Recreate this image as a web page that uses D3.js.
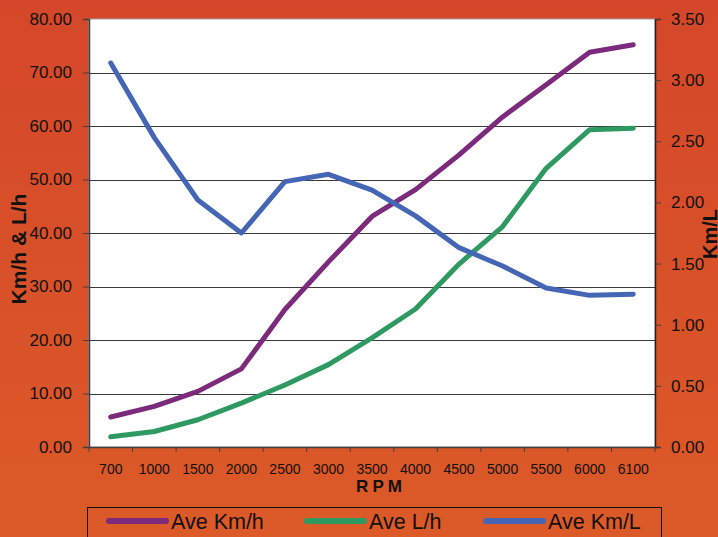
<!DOCTYPE html>
<html>
<head>
<meta charset="utf-8">
<script src="https://cdn.jsdelivr.net/npm/d3@7"></script>
<style>
  html, body { margin: 0; padding: 0; }
  body { width: 718px; height: 537px; overflow: hidden; }
</style>
</head>
<body>
<div id="chart"></div>
<script>
// chart values
const rpm = ["700", "1000", "1500", "2000", "2500", "3000", "3500", "4000", "4500", "5000", "5500", "6000", "6100"];
const aveKmh = [5.6, 7.6, 10.4, 14.6, 25.7, 34.6, 43.1, 48.1, 54.6, 61.7, 67.7, 73.8, 75.2];
const aveLh = [1.9, 2.9, 5.1, 8.2, 11.6, 15.4, 20.4, 25.8, 34.2, 41.2, 52.1, 59.3, 59.6];
const aveKmL = [3.14, 2.53, 2.02, 1.75, 2.17, 2.23, 2.10, 1.89, 1.63, 1.48, 1.30, 1.24, 1.25];
const leftTicks = [0, 10, 20, 30, 40, 50, 60, 70, 80];
const rightTicks = [0, 0.5, 1, 1.5, 2, 2.5, 3, 3.5];
const seriesNames = ["Ave Km/h", "Ave L/h", "Ave Km/L"];
const seriesColors = ["#7b2a7c", "#2e9a62", "#4466b4"];

const W = 718, H = 537;
const margin = { top: 19, right: 63, bottom: 90, left: 89 };
const width = W - margin.left - margin.right;
const height = H - margin.top - margin.bottom;
const font = "'Liberation Sans', Arial, sans-serif";

const svg = d3.select("#chart").append("svg")
    .attr("width", W)
    .attr("height", H);

// orange background, a bit redder at the top
const grad = svg.append("defs").append("linearGradient")
    .attr("id", "bg").attr("x1", 0).attr("y1", 0).attr("x2", 0).attr("y2", 1);
grad.append("stop").attr("offset", "0%").attr("stop-color", "#d4472a");
grad.append("stop").attr("offset", "100%").attr("stop-color", "#dc5a28");
svg.append("rect").attr("width", W).attr("height", H).attr("fill", "url(#bg)");

const g = svg.append("g").attr("transform", `translate(${margin.left},${margin.top})`);

const x = d3.scaleBand().domain(rpm).range([0, width]);
const yL = d3.scaleLinear().domain([0, 80]).range([height, 0]);
const yR = d3.scaleLinear().domain([0, 3.5]).range([height, 0]);

// plot area
g.append("rect")
    .attr("width", width).attr("height", height)
    .attr("fill", "#ffffff")
    .attr("stroke", "#a0a0a0").attr("stroke-width", 1);

// gridlines
g.selectAll(".grid")
    .data(leftTicks.slice(1, -1))
    .enter().append("line")
    .attr("x1", 0).attr("x2", width)
    .attr("y1", d => Math.round(yL(d)) + 0.5)
    .attr("y2", d => Math.round(yL(d)) + 0.5)
    .attr("stroke", "#3a3a3a").attr("stroke-width", 1);

// left axis
const axL = g.append("g")
    .call(d3.axisLeft(yL).tickValues(leftTicks).tickFormat(d3.format(".2f")).tickSize(6).tickPadding(11));
axL.select(".domain").attr("stroke", "#404040").attr("stroke-width", 1.5);
axL.selectAll(".tick line").attr("stroke", "#404040");
axL.selectAll("text").style("font-family", font).style("font-size", "17px").attr("fill", "#111");

// right axis
const axR = g.append("g")
    .attr("transform", `translate(${width},0)`)
    .call(d3.axisRight(yR).tickValues(rightTicks).tickFormat(d3.format(".2f")).tickSize(6).tickPadding(10));
axR.select(".domain").attr("stroke", "#222").attr("stroke-width", 1.5);
axR.selectAll(".tick line").attr("stroke", "#404040");
axR.selectAll("text").style("font-family", font).style("font-size", "17px").attr("fill", "#111");

// bottom axis: ticks between categories
const axB = g.append("g")
    .attr("transform", `translate(0,${height})`)
    .call(d3.axisBottom(x).tickSize(0).tickPadding(17));
axB.select(".domain").attr("stroke", "#404040").attr("stroke-width", 1.5);
axB.selectAll("text").style("font-family", font).style("font-size", "14px").attr("fill", "#111");
axB.selectAll(".sep")
    .data(d3.range(rpm.length + 1))
    .enter().append("line")
    .attr("class", "sep")
    .attr("x1", i => x.step() * i).attr("x2", i => x.step() * i)
    .attr("y1", 0).attr("y2", 5)
    .attr("stroke", "#404040");

// lines
const lineL = d3.line().x((d, i) => x(rpm[i]) + x.bandwidth() / 2).y(d => yL(d));
const lineR = d3.line().x((d, i) => x(rpm[i]) + x.bandwidth() / 2).y(d => yR(d));

[[aveKmh, lineL], [aveLh, lineL], [aveKmL, lineR]].forEach(([vals, gen], k) => {
    g.append("path")
        .datum(vals)
        .attr("d", gen)
        .attr("fill", "none")
        .attr("stroke", seriesColors[k])
        .attr("stroke-width", 5)
        .attr("stroke-linejoin", "round")
        .attr("stroke-linecap", "round");
});

// axis titles
svg.append("text")
    .attr("transform", `translate(26,249) rotate(-90)`)
    .attr("text-anchor", "middle")
    .style("font-family", font).style("font-size", "21px").style("font-weight", "bold")
    .attr("fill", "#111")
    .text("Km/h & L/h");

svg.append("text")
    .attr("transform", `translate(717,234) rotate(-90)`)
    .attr("text-anchor", "middle")
    .style("font-family", font).style("font-size", "20px").style("font-weight", "bold")
    .attr("fill", "#111")
    .text("Km/L");

svg.append("text")
    .attr("x", 381)
    .attr("y", 492)
    .attr("text-anchor", "middle")
    .style("font-family", font).style("font-size", "17px").style("font-weight", "bold")
    .style("letter-spacing", "4px")
    .attr("fill", "#111")
    .text("RPM");

// legend
const legend = svg.append("g");
legend.append("rect")
    .attr("x", 87.5).attr("y", 507.5)
    .attr("width", 574).attr("height", 40)
    .attr("fill", "none").attr("stroke", "#111").attr("stroke-width", 1);

const legendX = [109, 307, 486];
seriesNames.forEach((name, k) => {
    legend.append("line")
        .attr("x1", legendX[k]).attr("x2", legendX[k] + 57)
        .attr("y1", 521).attr("y2", 521)
        .attr("stroke", seriesColors[k]).attr("stroke-width", 6)
        .attr("stroke-linecap", "round");
    legend.append("text")
        .attr("x", legendX[k] + 62)
        .attr("y", 529)
        .style("font-family", font).style("font-size", "21.5px")
        .attr("fill", "#111")
        .text(name);
});
</script>
</body>
</html>
